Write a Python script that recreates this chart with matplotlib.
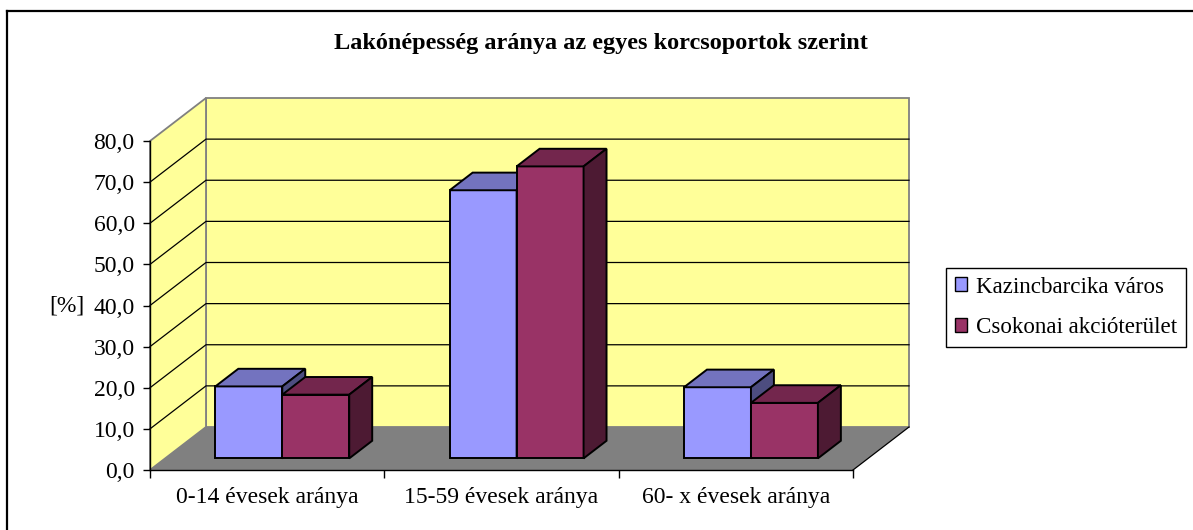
import matplotlib
matplotlib.use('Agg')
import matplotlib.pyplot as plt
from matplotlib.patches import Polygon, Patch
from matplotlib.lines import Line2D

# data
categories = ['0-14 évesek aránya', '15-59 évesek aránya', '60- x évesek aránya']
series_names = ['Kazincbarcika város', 'Csokonai akcióterület']
kazincbarcika = [17.5, 65.2, 17.3]
csokonai = [15.5, 71.0, 13.5]
yticks = [0, 10, 20, 30, 40, 50, 60, 70, 80]
title = 'Lakónépesség aránya az egyes korcsoportok szerint'

front_cols = ['#9999FF', '#993366']
top_cols = ['#7373BF', '#73264D']
side_cols = ['#4D4D80', '#4D1A33']
wall_col = '#FFFF99'
floor_col = '#808080'

plt.rcParams['font.family'] = ['Liberation Serif', 'DejaVu Serif']
fs = 17

W, H = 1193, 530
fig = plt.figure(figsize=(W / 100, H / 100), dpi=100)
# front plane of the 3d box, in pixels
left, right, bottom, top = 150, 853, 470, 141
ax = fig.add_axes([left / W, (H - bottom) / H, (right - left) / W, (bottom - top) / H])
ax.set_xlim(0, 3)
ax.set_ylim(0, 80)
ax.patch.set_visible(False)

# depth offset (full depth) in data units
DX = 56 / (right - left) * 3
DY = 43 / (bottom - top) * 80


def proj(x, y, d):
    return (x + d * DX, y + d * DY)


def poly(pts, fc, ec, lw=1.0, z=1):
    ax.add_patch(Polygon(pts, closed=True, facecolor=fc, edgecolor=ec,
                         linewidth=lw, zorder=z, clip_on=False, joinstyle='miter'))


# walls and floor
poly([proj(0, 0, 1), proj(3, 0, 1), proj(3, 80, 1), proj(0, 80, 1)], wall_col, '#808080', 1.3, 1)
poly([proj(0, 0, 0), proj(0, 0, 1), proj(0, 80, 1), proj(0, 80, 0)], wall_col, '#808080', 1.3, 1)
poly([proj(0, 0, 0), proj(3, 0, 0), proj(3, 0, 1), proj(0, 0, 1)], floor_col, 'none', 0, 2)
fx, fy = zip(proj(3, 0, 0), proj(3, 0, 1))
ax.plot(fx, fy, color='black', lw=0.9, zorder=2, clip_on=False)

for v in yticks[1:-1]:
    pts = [proj(0, v, 0), proj(0, v, 1), proj(3, v, 1)]
    ax.plot([p[0] for p in pts], [p[1] for p in pts], color='black', lw=0.9,
            zorder=2, clip_on=False)

# bars
w = 1 / 3.5
d0, d1 = 0.27, 0.68
z = 3
for i in range(len(categories)):
    for j, vals in enumerate([kazincbarcika, csokonai]):
        v = vals[i]
        x0 = i + 0.5 - w + j * w
        x1 = x0 + w
        poly([proj(x0, 0, d0), proj(x1, 0, d0), proj(x1, v, d0), proj(x0, v, d0)],
             front_cols[j], 'black', 1.4, z)
        poly([proj(x0, v, d0), proj(x1, v, d0), proj(x1, v, d1), proj(x0, v, d1)],
             top_cols[j], 'black', 1.4, z)
        poly([proj(x1, 0, d0), proj(x1, 0, d1), proj(x1, v, d1), proj(x1, v, d0)],
             side_cols[j], 'black', 1.4, z)
        z += 1

# axes
for s in ['top', 'right']:
    ax.spines[s].set_visible(False)
for s in ['left', 'bottom']:
    ax.spines[s].set_color('black')
    ax.spines[s].set_linewidth(1.0)
    ax.spines[s].set_zorder(20)

ax.set_yticks(yticks)
ax.set_yticklabels([f'{t:.1f}'.replace('.', ',') for t in yticks])
ax.tick_params(axis='y', direction='out', length=5, width=1, pad=6, labelsize=fs)
ax.set_xticks([0, 1, 2, 3])
ax.set_xticklabels([])
ax.tick_params(axis='x', which='major', direction='out', length=6, width=1)
ax.set_xticks([0.5, 1.5, 2.5], minor=True)
ax.set_xticklabels(categories, minor=True)
ax.tick_params(axis='x', which='minor', length=0, pad=12, labelsize=fs)

ax.set_ylabel('[%]', rotation=0, fontsize=fs, ha='center', va='center')
ax.yaxis.set_label_coords((67 - left) / (right - left), (bottom - 306) / (bottom - top))

fig.text(601 / W, 1 - 43 / H, title, ha='center', va='center', fontsize=17.5, fontweight='bold')

# chart border (cut off on right and bottom)
fig.add_artist(Line2D([7 / W, 1], [1 - 10.5 / H] * 2, color='black', lw=1.6, transform=fig.transFigure))
fig.add_artist(Line2D([7 / W] * 2, [0, 1 - 10.5 / H], color='black', lw=1.6, transform=fig.transFigure))

handles = [Patch(facecolor=c, edgecolor='black', linewidth=1) for c in front_cols]
leg = fig.legend(handles, series_names, loc='upper left',
                 bbox_to_anchor=(946 / W, 1 - 268 / H), bbox_transform=fig.transFigure,
                 fontsize=16.6, frameon=True, fancybox=False, framealpha=1,
                 edgecolor='black', borderaxespad=0, handlelength=0.55, handleheight=0.55,
                 handletextpad=0.4, labelspacing=0.85, borderpad=0.37)
leg.get_frame().set_linewidth(1.0)

fig.savefig('out.png', dpi=100)
